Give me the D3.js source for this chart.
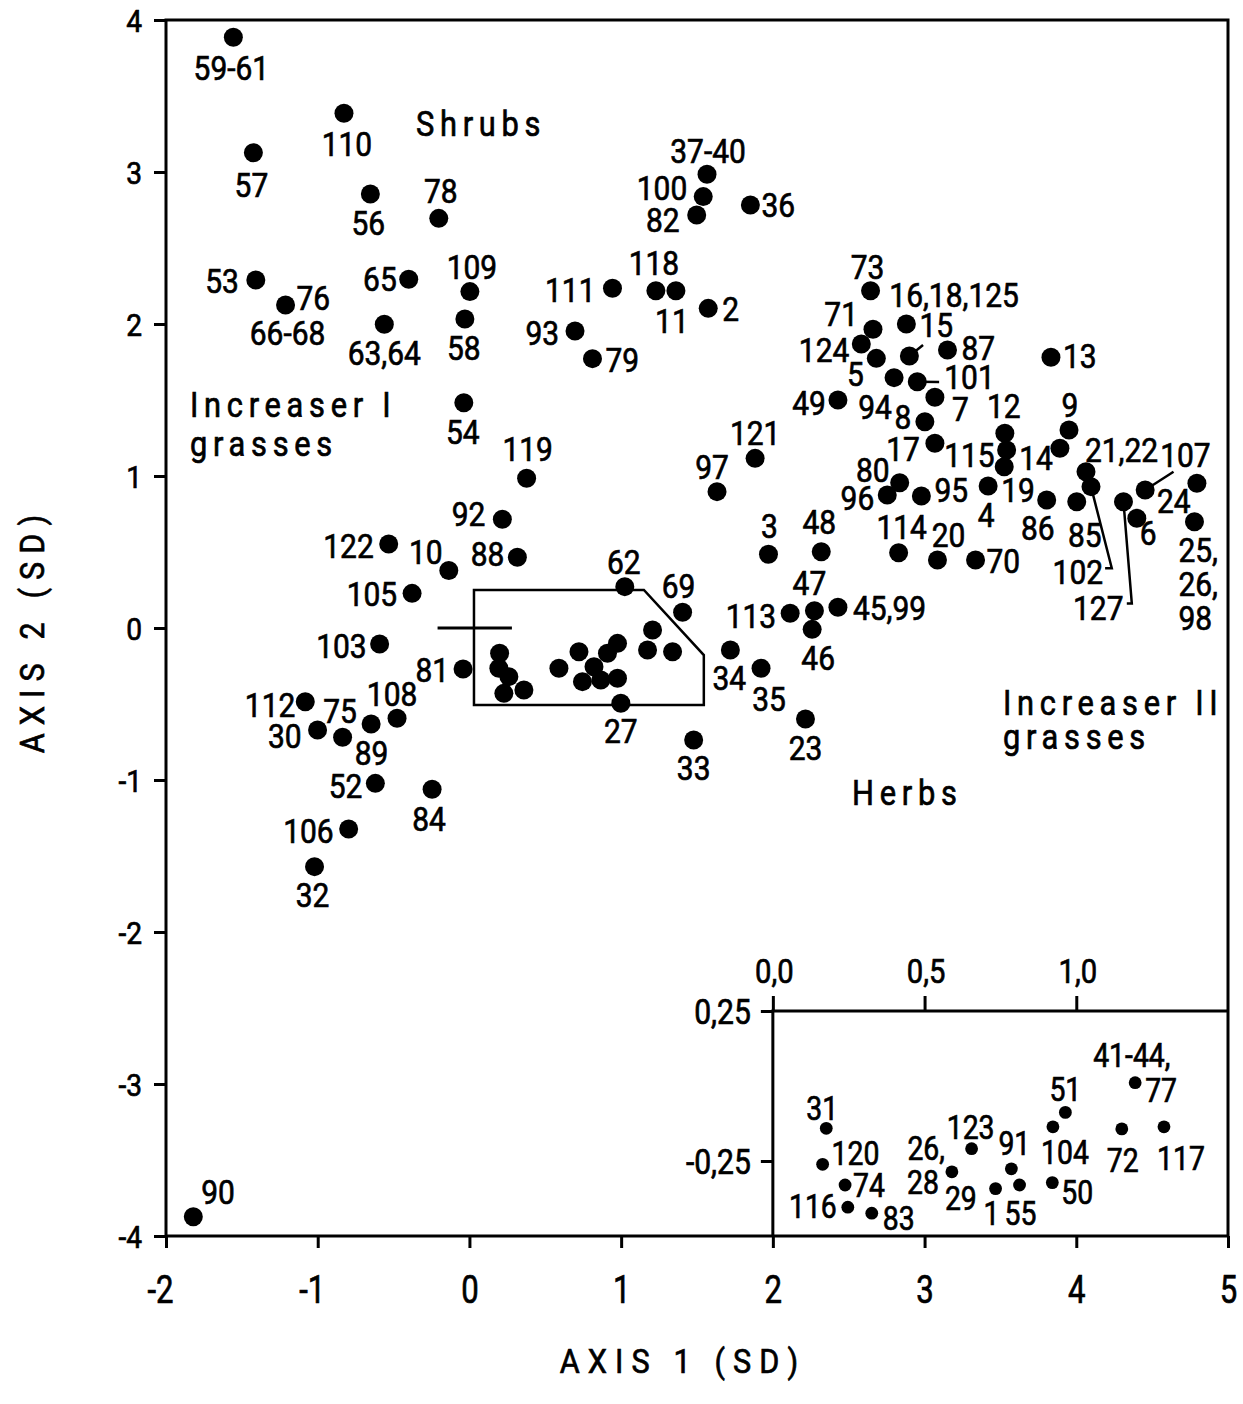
<!DOCTYPE html>
<html>
<head>
<meta charset="utf-8">
<script src="https://cdn.jsdelivr.net/npm/d3@7"></script>
<style>
  body { margin: 0; background: #fff; }
  svg text { font-family: Roboto, "DejaVu Sans", sans-serif; fill: #000; stroke: #000; stroke-width: 0.7px; }
</style>
</head>
<body>
<svg id="chart" width="1243" height="1404"></svg>
<script>
// ---------------- DATA ----------------
const xTicks = [-2, -1, 0, 1, 2, 3, 4, 5];
const yTicks = [-4, -3, -2, -1, 0, 1, 2, 3, 4];
const insetXTicks = [0, 0.5, 1.0];
const insetYTicks = [0.25, -0.25];

// main ordination scores (axis 1, axis 2) in SD units
const pointAxis1 = [
  -1.556, -0.827, -1.424, -0.653, -0.202, -1.408, -1.212, -0.400, 0.003, -0.561,
  -0.030, -0.037, 0.943, 0.696, 0.811, 1.566, 1.541, 1.498, 1.852, 1.229,
  1.361, 1.574, 2.429, 2.644, 2.880, 2.900, 2.660, 2.583, 2.682, 3.151,
  3.833, 2.799, 2.952, 3.068, 3.002, 3.068, 3.529, 3.541, 3.525, 3.952,
  3.892, 2.836, 2.754, 2.979, 3.419, 3.805, 4.003, 4.064, 4.097, 4.311,
  4.399, 4.454, 4.795, 4.779, 2.319, 2.829, 3.085, 3.336, 2.274, 2.114,
  2.259, 2.429, 1.883, 1.632, 1.971, 1.405, 1.720, 1.922, 2.215, 1.478,
  1.024, 0.998, 0.377, 0.217, -0.532, -0.136, 0.316, -0.378, -0.592, -0.042,
  -0.477, -1.082, -0.648, -1.001, -0.836, -0.620, -0.246, -0.796, -1.021, -1.820,
  0.199, 0.194, 0.260, 0.359, 0.227, 0.590, 0.722, 0.976, 0.910, 0.821,
  0.745, 0.976, 0.866, 1.207, 1.174, 1.339
];
const pointAxis2 = [
  3.886, 3.386, 3.127, 2.855, 2.695, 2.289, 2.125, 2.294, 2.213, 1.998,
  2.033, 1.482, 2.235, 1.954, 1.772, 2.985, 2.838, 2.717, 2.783, 2.219,
  2.219, 2.103, 1.500, 2.219, 2.000, 1.789, 1.965, 1.868, 1.774, 1.829,
  1.781, 1.647, 1.620, 1.518, 1.357, 1.215, 1.281, 1.171, 1.061, 1.303,
  1.182, 0.956, 0.875, 0.868, 0.934, 0.842, 0.831, 1.028, 0.930, 0.831,
  0.722, 0.908, 0.952, 0.699, 0.502, 0.495, 0.447, 0.447, 0.114, 0.097,
  -0.009, 0.136, 1.116, 0.897, 0.485, 0.104, -0.145, -0.265, -0.599, -0.737,
  0.272, -0.495, 0.985, 0.715, 0.553, 0.378, 0.465, 0.228, -0.105, -0.270,
  -0.594, -0.485, -0.632, -0.671, -0.719, -1.022, -1.061, -1.322, -1.570, -3.873,
  -0.166, -0.265, -0.320, -0.408, -0.430, -0.265, -0.156, -0.101, -0.166, -0.255,
  -0.353, -0.331, -0.342, -0.013, -0.145, -0.156
];
const pointLabels = [
  ["59-61"], ["110"], ["57"], ["56"], ["78"], ["53"], ["76", "66-68"], ["65"], ["109"], ["63,64"],
  ["58"], ["54"], ["111"], ["93"], ["79"], ["37-40"], ["100"], ["82"], ["36"], ["118"],
  ["11"], ["2"], ["49"], ["73"], ["16,18,125"], ["15"], ["71"], ["124"], ["5"], ["87"],
  ["13"], ["94"], ["101"], ["7"], ["8"], ["17"], ["12"], ["115"], ["19"], ["9"],
  ["14"], ["80"], ["96"], ["95"], ["4"], ["86"], ["85"], ["21,22"], ["102"], ["127"],
  ["6"], ["107"], ["24"], ["25,", "26,", "98"], ["48"], ["114"], ["20"], ["70"], ["47"], ["113"],
  ["46"], ["45,99"], ["121"], ["97"], ["3"], ["69"], ["34"], ["35"], ["23"], ["33"],
  ["62"], ["27"], ["119"], ["92"], ["122"], ["10"], ["88"], ["105"], ["103"], ["81"],
  ["108"], ["112"], ["75"], ["30"], ["89"], ["52"], ["84"], ["106"], ["32"], ["90"],
  [], [], [], [], [], [], [], [], [], [],
  [], [], [], [], [], []
];

// magnified inset (axis 1, axis 2)
const insetAxis1 = [1.194, 0.964, 0.923, 1.150, 1.289, 0.176, 0.164, 0.238, 0.247, 0.326,
                    0.655, 0.590, 0.734, 0.786, 0.813, 0.921];
const insetAxis2 = [0.011, -0.088, -0.136, -0.143, -0.136, -0.141, -0.261, -0.330, -0.404, -0.424,
                    -0.209, -0.286, -0.342, -0.276, -0.330, -0.322];
const insetLabels = [["41-44,", "77"], ["51"], ["104"], ["72"], ["117"], ["31"], ["120"], ["74"], ["116"], ["83"],
                     ["123"], ["26,", "28", "29"], ["1"], ["91"], ["55"], ["50"]];

// outline of the magnified region, origin cross and leader lines (axis units)
const regionOutline = [[0.03, 0.25], [1.15, 0.25], [1.545, -0.178], [1.545, -0.507], [0.03, -0.507]];
const originCross = [[-0.21, 0], [0.28, 0]];
const leaderLines = [
  [[2.900, 1.789], [2.990, 1.862]],
  [[2.952, 1.620], [3.096, 1.618]],
  [[4.097, 0.930], [4.234, 0.393], [4.190, 0.393]],
  [[4.311, 0.831], [4.366, 0.162], [4.333, 0.162]],
  [[4.454, 0.908], [4.641, 1.028]]
];

const groupNames = [["Shrubs"], ["Increaser I", "grasses"], ["Increaser II", "grasses"], ["Herbs"]];

// ---------------- LAYOUT (label offsets in px: anchor, dx, dy) ----------------
const labelLayout = [
  [["m",-2,43]], [["m",3,43]], [["m",-2,44]], [["m",-2,41]], [["m",2,-15]], [["e",-17,13]], [["s",11,5],["m",2,40]], [["e",-12,12]], [["m",2,-13]], [["m",0,41]],
  [["m",-1,41]], [["m",-1,41]], [["e",-17,14]], [["e",-16,14]], [["s",13,13]], [["m",1,-11]], [["e",-16,3]], [["e",-17,17]], [["s",11,12]], [["m",-2,-16]],
  [["m",-4,42]], [["s",14,13]], [["e",-12,15]], [["m",-3,-12]], [["s",-17,-17]], [["s",10,-19]], [["e",-15,-3]], [["e",-12,18]], [["m",-21,28]], [["s",14,10]],
  [["s",12,11]], [["m",-19,41]], [["s",27,7]], [["s",17,24]], [["m",-22,7]], [["e",-15,18]], [["m",-1,-15]], [["e",-12,17]], [["s",-3,35]], [["m",1,-13]],
  [["e",-7,22]], [["e",-10,-1]], [["e",-13,15]], [["s",13,6]], [["m",-2,41]], [["m",-9,40]], [["m",8,45]], [["s",-1,-10]], [["e",12,97]], [["e",0,118]],
  [["s",3,27]], [["s",15,-23]], [["s",-40,30]], [["s",-16,40],["s",-16,74],["s",-16,108]], [["m",-2,-18]], [["m",3,-14]], [["m",11,-13]], [["s",11,13]], [["m",-5,-16]], [["e",-14,15]],
  [["m",6,41]], [["s",15,13]], [["m",0,-13]], [["m",-5,-13]], [["m",1,-16]], [["m",-4,-14]], [["m",-1,40]], [["m",8,43]], [["m",0,41]], [["m",0,40]],
  [["m",-1,-13]], [["m",0,40]], [["m",1,-17]], [["e",-17,7]], [["e",-15,14]], [["m",-23,-7]], [["e",-13,9]], [["e",-15,13]], [["e",-13,14]], [["e",-14,13]],
  [["m",-5,-12]], [["e",-10,15]], [["m",-31,-1]], [["e",-16,18]], [["m",29,28]], [["e",-13,15]], [["m",-3,42]], [["e",-15,14]], [["m",-2,40]], [["s",8,-13]],
  [], [], [], [], [], [], [], [], [], [],
  [], [], [], [], [], []
];
const insetLayout = [
  [["s",-42,-16],["s",10,19]], [["m",0,-11]], [["m",12,37]], [["m",1,43]], [["m",17,43]], [["m",-4,-8]], [["s",9,1]], [["s",8,12]], [["e",-11,11]], [["s",11,17]],
  [["m",-1,-10]], [["e",-7,-12],["e",-13,22],["s",-7,38]], [["m",-4,36]], [["m",3,-14]], [["m",1,40]], [["s",9,21]]
];
const groupLayout = [[416, 136, 0], [190, 417, 39], [1003, 715, 34], [852, 805, 0]];

// ---------------- DRAW ----------------
const svg = d3.select("#chart");
const x = d3.scaleLinear().domain([-2, 5]).range([166, 1228]);
const y = d3.scaleLinear().domain([-4, 4]).range([1236, 20]);
const insetTopPx = 1011;
const xi = d3.scaleLinear().domain([0, 1.5]).range([x(2), x(5)]);
const yi = d3.scaleLinear().domain([-0.5, 0.25]).range([y(-4), insetTopPx]);
const anchorMap = { s: "start", m: "middle", e: "end" };

function txt(g, s, px, py, anchor, size, sx, spacing) {
  const t = g.append("text")
    .attr("transform", `translate(${px},${py}) scale(${sx},1)`)
    .attr("text-anchor", anchor)
    .style("font-size", size + "px")
    .text(s);
  if (spacing) t.style("letter-spacing", spacing + "px");
  return t;
}

// frame
svg.append("rect")
  .attr("x", x(-2)).attr("y", y(4))
  .attr("width", x(5) - x(-2)).attr("height", y(-4) - y(4))
  .attr("fill", "none").attr("stroke", "#000").attr("stroke-width", 3);

// bottom axis
const gx = svg.append("g").attr("transform", `translate(0,${y(-4)})`)
  .call(d3.axisBottom(x).tickValues(xTicks).tickSize(12).tickFormat(d => String(d)));
gx.select(".domain").remove();
gx.selectAll(".tick line").attr("stroke", "#000").attr("stroke-width", 3);
gx.selectAll(".tick text").each(function(d) {
  d3.select(this).attr("y", null).attr("dy", null).attr("x", null)
    .attr("transform", `translate(${d < 0 ? -6 : 0},67) scale(0.82,1)`)
    .attr("fill", "#000").attr("font-family", null)
    .style("font-size", "38px");
});

// left axis
const gy = svg.append("g").attr("transform", `translate(${x(-2)},0)`)
  .call(d3.axisLeft(y).tickValues(yTicks).tickSize(12).tickFormat(d => String(d)));
gy.select(".domain").remove();
gy.selectAll(".tick line").attr("stroke", "#000").attr("stroke-width", 3);
gy.selectAll(".tick text").each(function(d) {
  d3.select(this).attr("y", null).attr("dy", null).attr("x", null)
    .attr("transform", `translate(-24,11) scale(0.88,1)`)
    .attr("fill", "#000").attr("font-family", null)
    .style("font-size", "32px");
});

// axis titles
txt(svg, "AXIS 1 (SD)", 683, 1373, "middle", 34, 0.9, 9);
txt(svg, "AXIS 2 (SD)", 0, 0, "middle", 34, 0.9, 9)
  .attr("transform", "translate(44,630) rotate(-90) scale(0.9,1)");

// region outline + origin cross
const line = d3.line().x(d => x(d[0])).y(d => y(d[1]));
svg.append("path").attr("d", line(regionOutline) + "Z")
  .attr("fill", "none").attr("stroke", "#000").attr("stroke-width", 2.5);
svg.append("path").attr("d", line(originCross))
  .attr("fill", "none").attr("stroke", "#000").attr("stroke-width", 3);

// leader lines
svg.append("g").selectAll("path").data(leaderLines).join("path")
  .attr("d", d => line(d))
  .attr("fill", "none").attr("stroke", "#000").attr("stroke-width", 2.5);

// main points
const pts = pointAxis1.map((v, i) => ({ x: v, y: pointAxis2[i], labels: pointLabels[i], layout: labelLayout[i] }));
svg.append("g").selectAll("circle").data(pts).join("circle")
  .attr("cx", d => x(d.x)).attr("cy", d => y(d.y)).attr("r", 9.5).attr("fill", "#000");

const gl = svg.append("g");
pts.forEach(p => {
  p.labels.forEach((s, k) => {
    const [a, dx, dy] = p.layout[k];
    txt(gl, s, x(p.x) + dx, y(p.y) + dy, anchorMap[a], 34, 0.88);
  });
});

// group names
groupNames.forEach((lines, i) => {
  const [gx0, gy0, lh] = groupLayout[i];
  lines.forEach((s, k) => txt(svg, s, gx0, gy0 + k * lh, "start", 35, 0.88, 6.5));
});

// ---------------- INSET ----------------
const gi = svg.append("g");
gi.append("path")
  .attr("d", `M${xi(0)},${yi(-0.5)}V${yi(0.25)}H${xi(1.5)}`)
  .attr("fill", "none").attr("stroke", "#000").attr("stroke-width", 3);

const gix = gi.append("g").attr("transform", `translate(0,${yi(0.25)})`)
  .call(d3.axisTop(xi).tickValues(insetXTicks).tickSize(15).tickFormat(d => d.toFixed(1).replace(".", ",")));
gix.select(".domain").remove();
gix.selectAll(".tick line").attr("stroke", "#000").attr("stroke-width", 3);
gix.selectAll(".tick text").each(function() {
  d3.select(this).attr("y", null).attr("dy", null).attr("x", null)
    .attr("transform", `translate(1,-28) scale(0.86,1)`)
    .attr("fill", "#000").attr("font-family", null)
    .style("font-size", "34px");
});

const giy = gi.append("g").attr("transform", `translate(${xi(0)},0)`)
  .call(d3.axisLeft(yi).tickValues(insetYTicks).tickSize(12).tickFormat(d => d.toFixed(2).replace(".", ",")));
giy.select(".domain").remove();
giy.selectAll(".tick line").attr("stroke", "#000").attr("stroke-width", 3);
giy.selectAll(".tick text").each(function() {
  d3.select(this).attr("y", null).attr("dy", null).attr("x", null)
    .attr("transform", `translate(-22,12) scale(0.86,1)`)
    .attr("fill", "#000").attr("font-family", null)
    .style("font-size", "35px");
});

const ipts = insetAxis1.map((v, i) => ({ x: v, y: insetAxis2[i], labels: insetLabels[i], layout: insetLayout[i] }));
gi.append("g").selectAll("circle").data(ipts).join("circle")
  .attr("cx", d => xi(d.x)).attr("cy", d => yi(d.y)).attr("r", 6.4).attr("fill", "#000");
ipts.forEach(p => {
  p.labels.forEach((s, k) => {
    const [a, dx, dy] = p.layout[k];
    txt(gi, s, xi(p.x) + dx, yi(p.y) + dy, anchorMap[a], 33, 0.86);
  });
});
</script>
</body>
</html>
